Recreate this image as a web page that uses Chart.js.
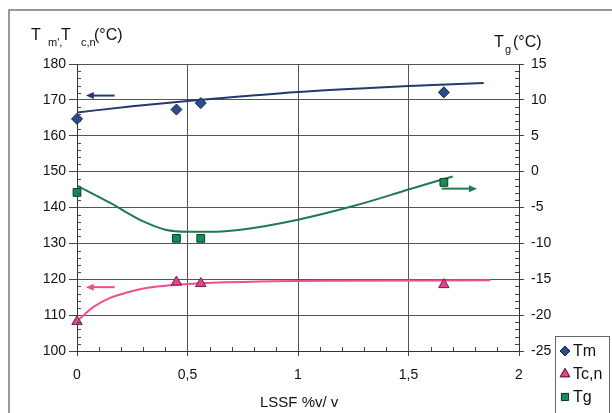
<!DOCTYPE html>
<html>
<head>
<meta charset="utf-8">
<script src="https://cdn.jsdelivr.net/npm/chart.js@4.4.1/dist/chart.umd.min.js"></script>
<style>
  html, body { margin: 0; padding: 0; background: #fff; }
  #grafico-wrap { width: 612px; height: 413px; position: relative; }
</style>
</head>
<body>
<div id="grafico-wrap"><canvas id="temperaturas"></canvas></div>
<script>
// pontos medidos
const lssf = [0, 0.45, 0.56, 1.66]
const tm = [164.7, 167.3, 169.1, 172.1]
const tcn = [108.2, 119.2, 118.8, 118.5]
const tg = [-2.9, -9.3, -9.3, -1.5]

// linhas de tendencia
const tendTmX = [0, 0.25, 0.5, 0.75, 1, 1.25, 1.5, 1.84]
const tendTmY = [166.5, 168.2, 169.7, 171.0, 172.2, 173.1, 173.9, 174.7]
const tendTcnX = [0, 0.075, 0.15, 0.225, 0.32, 0.44, 0.56, 0.83, 1.2, 1.87]
const tendTcnY = [108.3, 112.3, 114.8, 116.3, 117.6, 118.4, 118.9, 119.4, 119.6, 119.7]
const tendTgX = [0, 0.15, 0.3, 0.4, 0.5, 0.6, 0.75, 1, 1.25, 1.5, 1.7]
const tendTgY = [-1.96, -4.37, -6.94, -8.09, -8.37, -8.37, -8.05, -6.7, -4.8, -2.5, -0.67]

const xTicks = [0, 0.5, 1, 1.5, 2]
const legendas = ['Tm', 'Tc,n', 'Tg']

// setas indicando o eixo de cada curva
const setas = [
	{ eixo: 'y', de: [0.17, 171.2], para: [0.04, 171.2], cor: '#24396B' },
	{ eixo: 'y', de: [0.17, 117.8], para: [0.04, 117.8], cor: '#EE4F8E' },
	{ eixo: 'y2', de: [1.65, -2.37], para: [1.81, -2.37], cor: '#1F7A4E' }
]

const fonte = "'Liberation Sans', Arial, sans-serif"

function pares(xs, ys) {
	return xs.map((x, i) => ({ x: x, y: ys[i] }))
}

const moldura = {
	id: 'moldura',
	beforeDraw(chart) {
		const ctx = chart.ctx
		ctx.save()
		ctx.fillStyle = '#fff'
		ctx.fillRect(0, 0, chart.width, chart.height)
		ctx.strokeStyle = '#777'
		ctx.lineWidth = 1.5
		ctx.beginPath()
		ctx.moveTo(9, chart.height)
		ctx.lineTo(9, 10)
		ctx.lineTo(chart.width, 10)
		ctx.stroke()
		ctx.restore()
	}
}

// marcas secundarias nos eixos
const marcasMenores = {
	id: 'marcasMenores',
	afterDatasetsDraw(chart) {
		const ctx = chart.ctx
		const a = chart.chartArea
		const sx = chart.scales.x, sy = chart.scales.y, sy2 = chart.scales.y2
		ctx.save()
		ctx.strokeStyle = '#444'
		ctx.lineWidth = 1
		ctx.beginPath()
		for (let v = 100; v <= 180; v += 2) {
			if (v % 10 === 0) continue
			const p = Math.round(sy.getPixelForValue(v)) + 0.5
			ctx.moveTo(a.left, p); ctx.lineTo(a.left + 4, p)
		}
		for (let v = -25; v <= 15; v += 1) {
			if (v % 5 === 0) continue
			const p = Math.round(sy2.getPixelForValue(v)) + 0.5
			ctx.moveTo(a.right - 4, p); ctx.lineTo(a.right, p)
		}
		for (let i = 0; i <= 20; i++) {
			if (i % 5 === 0) continue
			const p = Math.round(sx.getPixelForValue(i / 10)) + 0.5
			ctx.moveTo(p, a.bottom); ctx.lineTo(p, a.bottom - 4)
		}
		ctx.stroke()

		setas.forEach(s => {
			const escala = chart.scales[s.eixo]
			const x1 = sx.getPixelForValue(s.de[0]), y1 = escala.getPixelForValue(s.de[1])
			const x2 = sx.getPixelForValue(s.para[0]), y2 = escala.getPixelForValue(s.para[1])
			const ang = Math.atan2(y2 - y1, x2 - x1)
			ctx.strokeStyle = s.cor
			ctx.fillStyle = s.cor
			ctx.lineWidth = 2
			ctx.beginPath()
			ctx.moveTo(x1, y1)
			ctx.lineTo(x2 - 6 * Math.cos(ang), y2 - 6 * Math.sin(ang))
			ctx.stroke()
			ctx.beginPath()
			ctx.moveTo(x2, y2)
			ctx.lineTo(x2 - 8 * Math.cos(ang) + 3.5 * Math.sin(ang), y2 - 8 * Math.sin(ang) - 3.5 * Math.cos(ang))
			ctx.lineTo(x2 - 8 * Math.cos(ang) - 3.5 * Math.sin(ang), y2 - 8 * Math.sin(ang) + 3.5 * Math.cos(ang))
			ctx.closePath()
			ctx.fill()
		})
		ctx.restore()
	}
}

// titulos dos eixos com subscritos (cada parte na sua posicao x)
function textoSub(ctx, partes, y) {
	partes.forEach(p => {
		ctx.font = (p.sub ? '11px ' : '16px ') + fonte
		ctx.fillText(p.t, p.x, y + (p.sub ? 6 : 0))
	})
}

const titulos = {
	id: 'titulos',
	afterDraw(chart) {
		const ctx = chart.ctx
		ctx.save()
		ctx.fillStyle = '#111'
		ctx.textBaseline = 'alphabetic'
		textoSub(ctx, [{ t: 'T', x: 31 }, { t: "m',", sub: true, x: 48 }, { t: 'T', x: 61 },
			{ t: 'c,n', sub: true, x: 81 }, { t: '(°C)', x: 94 }], 40)
		textoSub(ctx, [{ t: 'T', x: 494 }, { t: 'g', sub: true, x: 505 }, { t: '(°C)', x: 513 }], 47)
		ctx.font = '15px ' + fonte
		ctx.fillText('LSSF %v/ v', 260, 407)

		// legenda
		const bx = 555, by = 336
		ctx.strokeStyle = '#666'
		ctx.lineWidth = 1
		ctx.strokeRect(bx + 0.5, by + 0.5, 54, 80)
		const pontos = chart.data.datasets.slice(0, 3)
		pontos.forEach((ds, i) => {
			const cy = by + 15 + i * 23
			Chart.helpers.drawPoint(ctx, {
				pointStyle: ds.pointStyle, radius: ds.pointRadius - 0.5, borderWidth: 1
			}, bx + 10, cy)
			ctx.fillStyle = ds.backgroundColor
			ctx.strokeStyle = ds.borderColor
			ctx.fill(); ctx.stroke()
			ctx.fillStyle = '#111'
			ctx.font = '16px ' + fonte
			ctx.textBaseline = 'middle'
			ctx.fillText(legendas[i], bx + 18, cy + 1)
		})
		ctx.restore()
	}
}

var grafico = document.getElementById('temperaturas').getContext('2d')
var dados = {
	type: 'scatter',
	data: {
		datasets: [
			{ label: legendas[0], data: pares(lssf, tm), yAxisID: 'y', pointStyle: 'rectRot', pointRadius: 5.5,
				backgroundColor: '#2B4C8C', borderColor: '#16244F', borderWidth: 1, order: 1, clip: false },
			{ label: legendas[1], data: pares(lssf, tcn), yAxisID: 'y', pointStyle: 'triangle', pointRadius: 6,
				backgroundColor: '#E9418B', borderColor: '#6A2345', borderWidth: 1, order: 1, clip: false },
			{ label: legendas[2], data: pares(lssf, tg), yAxisID: 'y2', pointStyle: 'rect', pointRadius: 5.5,
				backgroundColor: '#168A58', borderColor: '#0B3D24', borderWidth: 1, order: 1, clip: false },
			{ data: pares(tendTmX, tendTmY), yAxisID: 'y', showLine: true, pointRadius: 0,
				borderColor: '#24396B', borderWidth: 2, cubicInterpolationMode: 'monotone', order: 2 },
			{ data: pares(tendTcnX, tendTcnY), yAxisID: 'y', showLine: true, pointRadius: 0,
				borderColor: '#EE4F8E', borderWidth: 2, cubicInterpolationMode: 'monotone', order: 2 },
			{ data: pares(tendTgX, tendTgY), yAxisID: 'y2', showLine: true, pointRadius: 0,
				borderColor: '#1F7A4E', borderWidth: 2, cubicInterpolationMode: 'monotone', order: 2 }
		]
	},
	options: {
		responsive: false,
		animation: false,
		layout: { padding: { top: 64, left: 0, right: 0, bottom: 0 } },
		plugins: { legend: { display: false }, tooltip: { enabled: false } },
		scales: {
			x: {
				type: 'linear', min: 0, max: 2,
				afterBuildTicks: (s) => { s.ticks = xTicks.map(v => ({ value: v })) },
				afterFit: (s) => { s.height = 62 },
				ticks: { padding: 11, color: '#111', font: { family: fonte, size: 14 },
					callback: (v) => String(v).replace('.', ',') },
				grid: { color: '#555', tickLength: 5, tickColor: '#444' },
				border: { color: '#333', width: 1 }
			},
			y: {
				position: 'left', min: 100, max: 180,
				afterFit: (s) => { s.width = 77 },
				ticks: { stepSize: 10, padding: 3, color: '#111', font: { family: fonte, size: 14 } },
				grid: { color: '#555', tickLength: 8, tickColor: '#444' },
				border: { color: '#333', width: 1 }
			},
			y2: {
				position: 'right', min: -25, max: 15,
				afterFit: (s) => { s.width = 93 },
				ticks: { stepSize: 5, padding: 7, color: '#111', font: { family: fonte, size: 14 } },
				grid: { drawOnChartArea: false, tickLength: 5, tickColor: '#444' },
				border: { color: '#333', width: 1 }
			}
		}
	},
	plugins: [moldura, marcasMenores, titulos]
}
document.getElementById('temperaturas').width = 612
document.getElementById('temperaturas').height = 413
new Chart(grafico, dados)
</script>
</body>
</html>
